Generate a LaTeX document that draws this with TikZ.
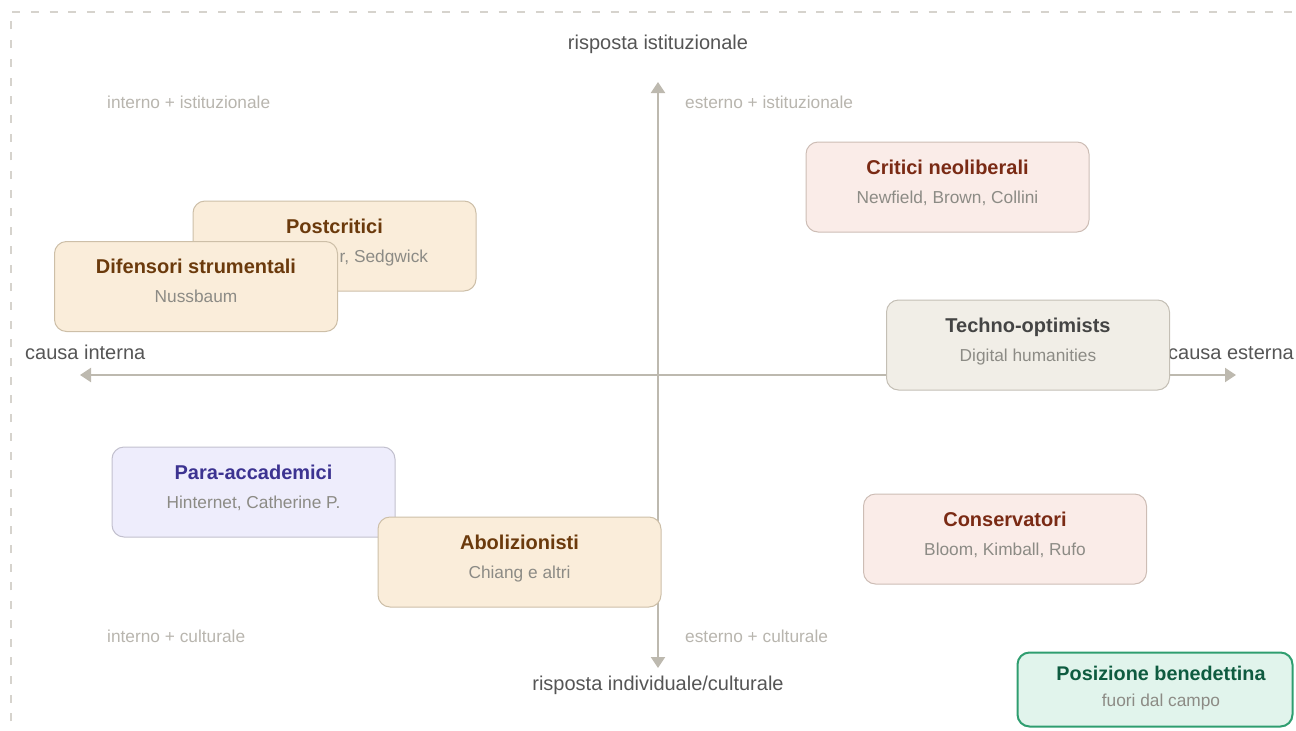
\documentclass[tikz,border=0pt]{standalone}
\usepackage{fontspec}
\setmainfont{Liberation Sans}
\usetikzlibrary{arrows.meta}
\definecolor{axiscol}{HTML}{BDB9AF}
\definecolor{dashcol}{HTML}{D6D3CD}
\definecolor{quadcol}{HTML}{B8B5AE}
\definecolor{axlabcol}{HTML}{555555}
\definecolor{subcol}{HTML}{8C8B85}
\definecolor{orfill}{HTML}{FAEDDA}
\definecolor{ortext}{HTML}{6B3A0C}
\definecolor{ordraw}{HTML}{CDBFA8}
\definecolor{pkfill}{HTML}{FAECE8}
\definecolor{pktext}{HTML}{7A2A14}
\definecolor{pkdraw}{HTML}{CDBDB5}
\definecolor{gyfill}{HTML}{F1EEE7}
\definecolor{gytext}{HTML}{444444}
\definecolor{gydraw}{HTML}{C4BFB5}
\definecolor{pufill}{HTML}{EEEDFC}
\definecolor{putext}{HTML}{3C3391}
\definecolor{pudraw}{HTML}{C2C0CE}
\definecolor{grfill}{HTML}{E1F4EC}
\definecolor{grtext}{HTML}{0E5B40}
\definecolor{grdraw}{HTML}{2F9E70}
\tikzset{
  axisline/.style={draw=axiscol, line width=2pt, {Triangle[length=11pt,width=14pt]}-{Triangle[length=11pt,width=14pt]}},
  quadlab/.style={anchor=base west, inner sep=0pt, text=quadcol, font=\fontsize{17.3}{20}\selectfont},
  axlab/.style={anchor=base, inner sep=0pt, text=axlabcol, font=\fontsize{20}{24}\selectfont},
  boxnode/.style={rectangle, rounded corners=12pt, line width=1pt, minimum width=283pt, minimum height=90pt, inner sep=0pt},
  ttl/.style={anchor=base, inner sep=0pt, font=\fontsize{20}{24}\selectfont\bfseries},
  subt/.style={anchor=base, inner sep=0pt, text=subcol, font=\fontsize{17.3}{20}\selectfont},
}
\begin{document}
\begin{tikzpicture}[x=1pt,y=-1pt]
\useasboundingbox (0,0) rectangle (1296,731);
% dashed frame
\draw[dashcol, line width=1.3pt, dash pattern=on 8pt off 10.7pt] (11,740) -- (11,12) -- (1310,12);
% axes
\coordinate (vt) at (658,82);
\coordinate (vb) at (658,668);
\coordinate (hl) at (80,375);
\coordinate (hr) at (1236,375);
\draw[axisline] (vb) -- (vt);
\draw[axisline] (hl) -- (hr);
% quadrant labels
\node[quadlab] (q1) at (107,108) {interno + istituzionale};
\node[quadlab] (q2) at (685,108) {esterno + istituzionale};
\node[quadlab] (q3) at (107,642) {interno + culturale};
\node[quadlab] (q4) at (685,642) {esterno + culturale};
% axis labels
\node[axlab] (at) at (658,49) {risposta istituzionale};
\node[axlab] (ab) at (658,690) {risposta individuale/culturale};
\node[axlab, anchor=base west] (al) at (25,359) {causa interna};
\node[axlab, anchor=base west] (ar) at (1168,359) {causa esterna};
% Postcritici
\node[boxnode, fill=orfill, draw=ordraw] (pc) at (334.5,246) {};
\node[ttl, text=ortext] (pct) at (334.5,233) {Postcritici};
\node[subt, anchor=base east] (pcs) at (428.3,262) {r, Sedgwick};
% Difensori strumentali
\node[boxnode, fill=orfill, draw=ordraw] (ds) at (196,286.5) {};
\node[ttl, text=ortext] (dst) at (196,273.5) {Difensori strumentali};
\node[subt] (dss) at (196,302.5) {Nussbaum};
% Critici neoliberali
\node[boxnode, fill=pkfill, draw=pkdraw] (cn) at (947.5,187) {};
\node[ttl, text=pktext] (cnt) at (947.5,174) {Critici neoliberali};
\node[subt] (cns) at (947.5,203) {Newfield, Brown, Collini};
% Techno-optimists
\node[boxnode, fill=gyfill, draw=gydraw] (to) at (1028,345) {};
\node[ttl, text=gytext] (tot) at (1028,332) {Techno-optimists};
\node[subt] (tos) at (1028,361) {Digital humanities};
% Para-accademici
\node[boxnode, fill=pufill, draw=pudraw] (pa) at (253.5,492) {};
\node[ttl, text=putext] (pat) at (253.5,479) {Para-accademici};
\node[subt] (pas) at (253.5,508) {Hinternet, Catherine P.};
% Abolizionisti
\node[boxnode, fill=orfill, draw=ordraw] (ab2) at (519.5,562) {};
\node[ttl, text=ortext] (abt) at (519.5,549) {Abolizionisti};
\node[subt] (abs) at (519.5,578) {Chiang e altri};
% Conservatori
\node[boxnode, fill=pkfill, draw=pkdraw] (co) at (1005,539) {};
\node[ttl, text=pktext] (cot) at (1005,526) {Conservatori};
\node[subt] (cos) at (1005,555) {Bloom, Kimball, Rufo};
% Posizione benedettina
\node[boxnode, fill=grfill, draw=grdraw, line width=2pt, minimum width=275pt, minimum height=74pt] (pb) at (1155,689.5) {};
\node[ttl, text=grtext, font=\fontsize{19.8}{23}\selectfont\bfseries] (pbt) at (1161,680) {Posizione benedettina};
\node[subt] (pbs) at (1161,706) {fuori dal campo};
\end{tikzpicture}
\end{document}
